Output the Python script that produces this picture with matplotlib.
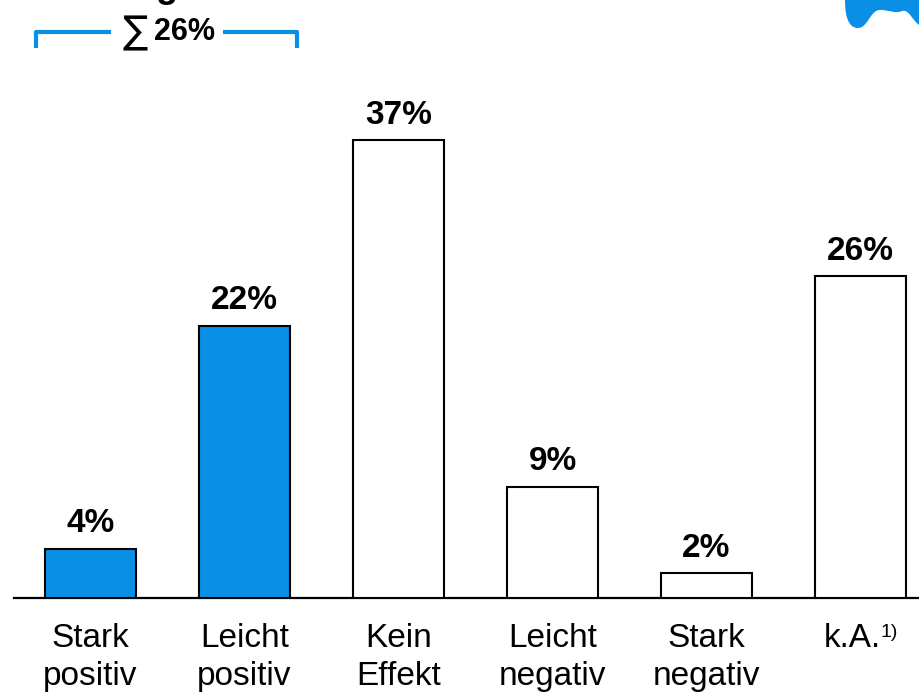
import matplotlib
matplotlib.use("Agg")
import matplotlib.pyplot as plt
from matplotlib import font_manager
from matplotlib.path import Path
from matplotlib.patches import PathPatch

# ---- data -------------------------------------------------------------
categories = ["Stark\npositiv", "Leicht\npositiv", "Kein\nEffekt",
              "Leicht\nnegativ", "Stark\nnegativ", "k.A."]
values = [4, 22, 37, 9, 2, 26]
value_labels = ["4%", "22%", "37%", "9%", "2%", "26%"]
highlight = [True, True, False, False, False, False]
sum_label = "26%"

BLUE = "#0A8FE6"

# ---- font -------------------------------------------------------------
installed = {f.name for f in font_manager.fontManager.ttflist}
family = ["Liberation Sans Narrow", "Liberation Sans", "DejaVu Sans"]
family = [f for f in family if f in installed] or ["DejaVu Sans"]
plt.rcParams["font.family"] = family

W, H = 919, 700
fig = plt.figure(figsize=(W / 100, H / 100), dpi=100)

# axes placed so the baseline sits near the lower part of the canvas
ax = fig.add_axes([14 / W, 102 / H, (W - 14) / W, 598 / H])
ax.set_xlim(-0.497, 5.38)
ax.set_ylim(0, 48.35)
for s in ("left", "right", "top"):
    ax.spines[s].set_visible(False)
ax.spines["bottom"].set_linewidth(1.6)
ax.set_yticks([])
ax.set_xticks([])

x = list(range(len(values)))
bar_w = 0.59
colors = [BLUE if h else "white" for h in highlight]
ax.bar(x, values, width=bar_w, color=colors, edgecolor="black",
       linewidth=1.5, zorder=3)

# value labels
for xi, v, lab in zip(x, values, value_labels):
    ax.annotate(lab, (xi, v), xytext=(0, 7), textcoords="offset points",
                ha="center", va="bottom", fontsize=24, fontweight="bold")

# category labels under the baseline
for xi, cat in zip(x, categories):
    if cat == "k.A.":
        t = ax.annotate(cat, (xi, 0), xytext=(-6, -18),
                        textcoords="offset points", ha="center", va="top",
                        fontsize=24, annotation_clip=False)
        ax.annotate("1)", xy=(1, 1), xycoords=t, xytext=(0, -1),
                    textcoords="offset points", ha="left", va="top",
                    fontsize=14)
    else:
        ax.annotate(cat, (xi, 0), xytext=(0, -18), textcoords="offset points",
                    ha="center", va="top", fontsize=24, linespacing=1.3,
                    annotation_clip=False)

# bracket summing the positive answers
left = x[0] - bar_w / 2 - 0.06
right = x[1] + bar_w / 2 + 0.045
mid = (left + right) / 2
yb, yt = 44.5, 45.75
gap_l, gap_r = mid - 0.36, mid + 0.37
ax.plot([left, left, gap_l], [yb, yt, yt], color=BLUE, lw=3,
        solid_capstyle="butt", clip_on=False)
ax.plot([gap_r, right, right], [yt, yt, yb], color=BLUE, lw=3,
        solid_capstyle="butt", clip_on=False)
ax.text(mid - 0.12, yt - 0.1, "\u2211", ha="right", va="center",
        fontsize=27, family="DejaVu Sans", clip_on=False)
ax.text(mid - 0.08, yt + 0.05, sum_label, ha="left", va="center",
        fontsize=22, fontweight="bold", clip_on=False)

# title line above, only its descender reaches into the canvas
fig.text(167 / W, 1.0 + 3 / H, "g", ha="center", va="baseline",
         fontsize=26, fontweight="bold")

# decorative blob in the top-right corner (pixel coordinates)
verts = [(845, 700), (845, 680), (850, 672), (858, 672), (868, 672),
         (870, 690), (880, 690), (890, 690), (895, 686), (902, 689),
         (909, 691), (912, 680), (919, 675), (919, 700), (845, 700)]
codes = [Path.MOVETO, Path.CURVE4, Path.CURVE4, Path.CURVE4,
         Path.CURVE4, Path.CURVE4, Path.CURVE4, Path.CURVE4, Path.CURVE4,
         Path.CURVE4, Path.CURVE4, Path.CURVE4, Path.CURVE4,
         Path.LINETO, Path.CLOSEPOLY]
blob = PathPatch(Path(verts, codes), facecolor=BLUE, edgecolor="none",
                 transform=None)
fig.patches.append(blob)

fig.savefig("out.png", dpi=100)
